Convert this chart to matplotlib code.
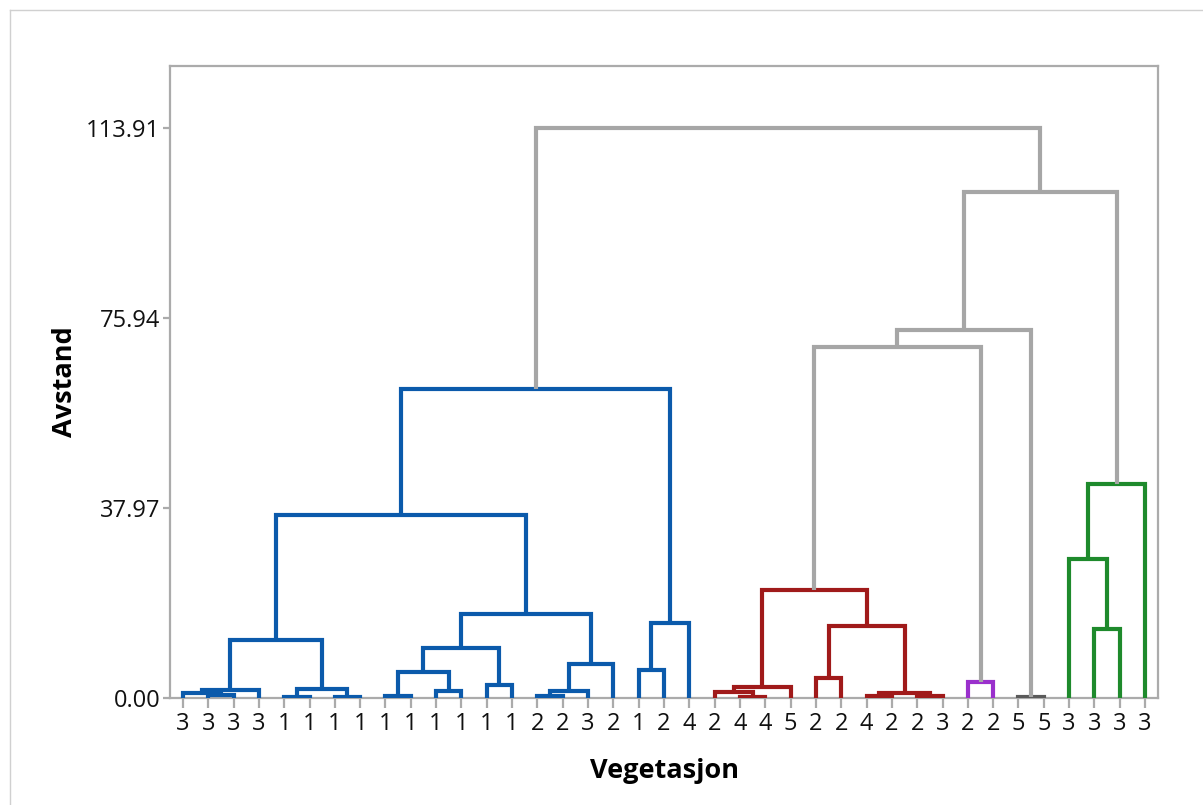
import numpy as np
import matplotlib.pyplot as plt
from matplotlib.lines import Line2D

plt.rcParams['font.family'] = ['Open Sans', 'DejaVu Sans']

# leaf labels (Vegetasjon) in dendrogram order
leaf_labels = ['3', '3', '3', '3', '1', '1', '1', '1',
               '1', '1', '1', '1', '1', '1', '2', '2', '3', '2',
               '1', '2', '4',
               '2', '4', '4', '5', '2', '2', '4', '2', '2', '3',
               '2', '2', '5', '5', '3', '3', '3', '3']

# cluster membership of each leaf (for colouring)
leaf_cluster = [0] * 21 + [1] * 10 + [2] * 2 + [3] * 2 + [4] * 4

# merges: (child a, child b, distance); leaves are 0..38, new nodes 39, 40, ...
merge_a = [1, 0, 40, 4, 6, 42, 41, 8, 10, 46, 12, 48, 14, 51, 52, 50, 45, 18, 56, 55,
           22, 21, 60, 25, 27, 29, 63, 62, 61,
           31, 33, 36, 35, 71, 67, 73, 74, 58]
merge_b = [2, 39, 3, 5, 7, 43, 44, 9, 11, 47, 13, 49, 15, 16, 17, 53, 54, 19, 20, 57,
           23, 59, 24, 26, 28, 30, 64, 65, 66,
           32, 34, 37, 70, 38, 68, 69, 72, 75]
merge_h = [0.6, 1.1, 1.7, 0.3, 0.15, 1.9, 11.6, 0.45, 1.4, 5.3, 2.6, 10.1, 0.4, 1.4, 6.8,
           16.9, 36.6, 5.6, 15.1, 61.8,
           0.2, 1.3, 2.2, 4.1, 0.35, 0.5, 1.1, 14.4, 21.6,
           3.3, 0.25, 13.9, 27.8, 42.9, 70.2, 73.6, 101.2, 113.91]

yticks = [0.00, 37.97, 75.94, 113.91]

cluster_colors = ['#0B5AAB', '#A01A1A', '#9A30CC', '#5A5A5A', '#1E8A2C']
link_grey = '#A6A6A6'
frame_grey = '#ABABAB'

fig = plt.figure(figsize=(12.03, 8.05), dpi=100)
ax = fig.add_axes([170 / 1203, 107 / 805, 988 / 1203, 632 / 805])

n = len(leaf_labels)
xpos = {i: float(i) for i in range(n)}
ypos = {i: 0.0 for i in range(n)}
clus = {i: leaf_cluster[i] for i in range(n)}

for k, (a, b, h) in enumerate(zip(merge_a, merge_b, merge_h)):
    node = n + k
    c = clus[a] if clus[a] == clus[b] else None
    col = cluster_colors[c] if c is not None else link_grey
    ax.plot([xpos[a], xpos[a], xpos[b], xpos[b]], [ypos[a], h, h, ypos[b]],
            color=col, lw=3.0, solid_capstyle='butt', solid_joinstyle='miter', zorder=3)
    xpos[node] = (xpos[a] + xpos[b]) / 2
    ypos[node] = h
    clus[node] = c

ax.set_xlim(-0.51, n - 1 + 0.51)
ax.set_ylim(0, 126.4)

ax.set_xticks(range(n))
ax.set_xticklabels(leaf_labels)
ax.set_yticks(yticks)
ax.set_yticklabels(['%.2f' % v for v in yticks])

for s in ax.spines.values():
    s.set_color(frame_grey)
    s.set_linewidth(1.6)

ax.tick_params(axis='x', length=7, width=1.6, color=frame_grey, labelsize=17, pad=3,
               labelcolor='#111111')
ax.tick_params(axis='y', length=5, width=1.6, color=frame_grey, labelsize=17, pad=2,
               labelcolor='#111111')

ax.set_xlabel('Vegetasjon', fontsize=19.5, fontweight='bold', labelpad=16)
ax.set_ylabel('Avstand', fontsize=19.5, fontweight='bold', labelpad=6)

# thin outer border of the graph window
fig.add_artist(Line2D([10 / 1203, 10 / 1203], [0, 1 - 10 / 805], color='#D0D0D0', lw=1))
fig.add_artist(Line2D([10 / 1203, 1], [1 - 10 / 805, 1 - 10 / 805], color='#D0D0D0', lw=1))

plt.savefig('out.png', dpi=100)
